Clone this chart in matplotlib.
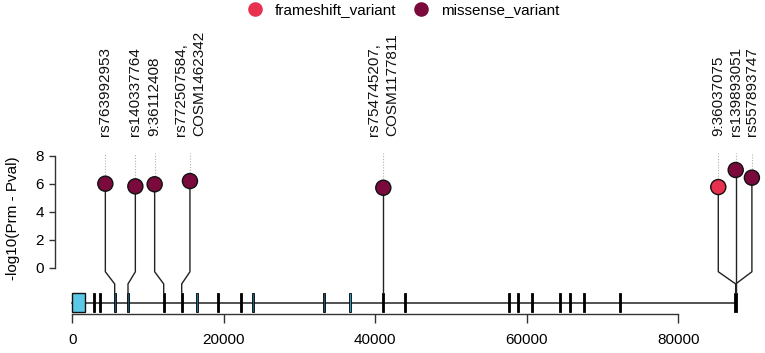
import matplotlib
matplotlib.use("Agg")
import matplotlib.pyplot as plt
from matplotlib.lines import Line2D

plt.rcParams['font.family'] = ['Liberation Sans', 'DejaVu Sans']

# variants: genomic position, spread-out display position, score, type, label
snp_pos = [5597, 7353, 12066, 14442, 41056, 87578, 87578, 87578]
disp_pos = [4362, 8323, 10871, 15531, 41056, 85280, 87578, 89716]
scores = [6.0, 5.81, 5.96, 6.19, 5.71, 5.76, 6.98, 6.43]
var_type = ['missense_variant'] * 5 + ['frameshift_variant', 'missense_variant', 'missense_variant']
snp_labels = ['rs763992953', 'rs140337764', '9:36112408', 'rs772507584,\nCOSM1462342',
              'rs754745207,\nCOSM1177811', '9:36037075', 'rs139893051', 'rs557893747']
type_colors = {'frameshift_variant': '#E8304F', 'missense_variant': '#7A0A3C'}

# gene model
gene_start, gene_end = 0, 87578
first_exon = (0, 1640)
exon_pos = [2825, 3696, 5597, 7353, 12066, 14442, 16423, 19274, 22310, 23894,
            33267, 36660, 41056, 43881, 57690, 58878, 60686, 64422, 65663, 67511,
            72264, 87578]
exon_w = [300] * 21 + [450]
exon_col = ['k', 'k', '#1d4f66', '#1d4f66', 'k', 'k', '#1f6f8f', 'k', 'k', '#1d5f7a',
            '#1d4f66', '#2a9bc4', 'k', 'k', 'k', 'k', 'k', 'k', 'k', 'k',
            'k', 'k']
x_ticks = [0, 20000, 40000, 60000, 80000]
y_ticks = [0, 2, 4, 6, 8]

W, H = 765, 353
fig = plt.figure(figsize=(W / 100, H / 100), dpi=100)
ax = fig.add_axes([0, 0, 1, 1])

# pixel <-> data mapping
bp_per_px = 20000 / 151.5
x0_px = 72.3
ax.set_xlim(-x0_px * bp_per_px, (W - x0_px) * bp_per_px)
y0_px, px_per_unit = 267.7, 14.0
ax.set_ylim((y0_px - H) / px_per_unit, y0_px / px_per_unit)

line_y = -2.5
ex_lo, ex_hi = -3.19, -1.79
bend_hi, bend_lo = -0.29, -1.16

# gene backbone + exons
ax.plot([gene_start, gene_end], [line_y, line_y], color='#222222', lw=1.1, zorder=1)
ax.bar(exon_pos, ex_hi - ex_lo, bottom=ex_lo, width=exon_w, color=exon_col,
       edgecolor='k', linewidth=0.6, zorder=2)
ax.bar(first_exon[0], ex_hi - ex_lo, bottom=ex_lo, width=first_exon[1] - first_exon[0],
       align='edge', color='#5BC8E8', edgecolor='#111111', linewidth=1.0, zorder=2)

# stems
for p, d, s in zip(snp_pos, disp_pos, scores):
    ax.plot([d, d, p, p], [s, bend_hi, bend_lo, ex_hi], color='#222222', lw=1.0, zorder=3)
    ax.plot([d, d], [s + 0.6, 8.2], color='#b0b0b0', lw=0.8, ls=(0, (1, 1.5)), zorder=1)

ax.scatter(disp_pos, scores, s=118, c=[type_colors[t] for t in var_type],
           edgecolors='#111111', linewidths=1.0, zorder=4)

for d, lab in zip(disp_pos, snp_labels):
    ax.text(d, 9.38, lab, rotation=90, ha='center', va='bottom', multialignment='left',
            fontsize=11, linespacing=1.4, color='#111111')

# axes
for side in ['top', 'right']:
    ax.spines[side].set_visible(False)
ax.spines['left'].set_position(('data', (55.5 - x0_px) * bp_per_px))
ax.spines['left'].set_bounds(0, 8)
ax.spines['bottom'].set_position(('data', (y0_px - 314) / px_per_unit))
ax.spines['bottom'].set_bounds(0, 80000)
for side in ['left', 'bottom']:
    ax.spines[side].set_color('#333333')
    ax.spines[side].set_linewidth(1.0)
ax.set_yticks(y_ticks)
ax.set_yticklabels([str(v) for v in y_ticks])
ax.set_xticks(x_ticks)
ax.set_xticklabels([str(v) for v in x_ticks])
ax.tick_params(axis='y', direction='out', length=4.5, width=1.0, color='#333333',
               labelsize=11, pad=4)
ax.tick_params(axis='x', direction='out', length=6.5, width=1.0, color='#333333',
               labelsize=11, pad=7)

fig.text(13 / W, 1 - 218 / H, '-log10(Prm - Pval)', rotation=90, ha='center',
         va='center', fontsize=11)

handles = [Line2D([], [], marker='o', ls='', markersize=10.5, color=type_colors[t],
                  markeredgewidth=0) for t in ['frameshift_variant', 'missense_variant']]
fig.legend(handles, ['frameshift_variant', 'missense_variant'], loc='upper center',
           bbox_to_anchor=(0.527, 1.03), ncol=2, frameon=False, fontsize=11,
           handletextpad=0.8, columnspacing=1.1, handlelength=1.0)

fig.savefig('out.png', dpi=100)
